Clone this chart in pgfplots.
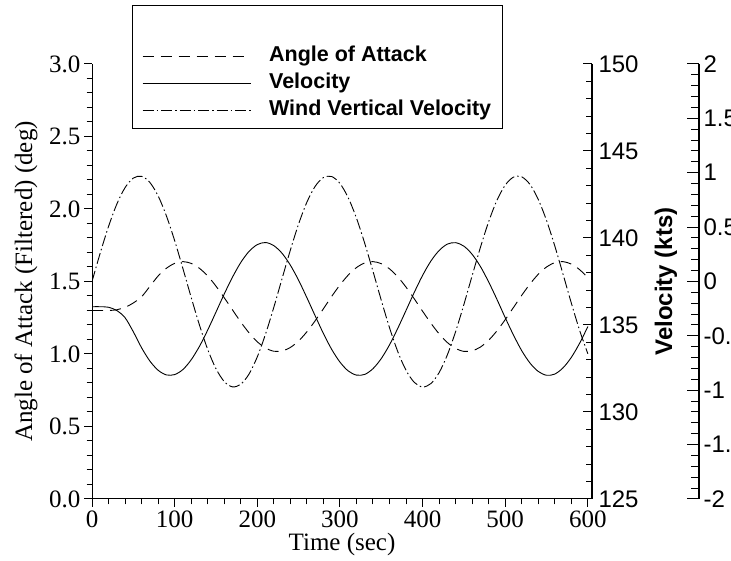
\documentclass[border=0pt]{standalone}
\usepackage{fontspec}
\setmainfont{Liberation Serif}
\newfontfamily\arial{Liberation Sans}
\usepackage{pgfplots}
\usepackage{pgfplotstable}
\pgfplotsset{compat=1.18}

\pgfplotstableread{
t a
0 1.300
10 1.300
20 1.300
30 1.305
40 1.322
50 1.352
60 1.395
70 1.466
80 1.538
90 1.591
100 1.625
110 1.637
120 1.625
130 1.591
140 1.538
150 1.468
160 1.388
170 1.304
180 1.221
190 1.146
200 1.084
210 1.041
220 1.019
230 1.021
240 1.045
250 1.090
260 1.153
270 1.229
280 1.312
290 1.397
300 1.476
310 1.544
320 1.596
330 1.628
340 1.637
350 1.623
360 1.587
370 1.532
380 1.461
390 1.380
400 1.295
410 1.213
420 1.139
430 1.079
440 1.038
450 1.018
460 1.022
470 1.048
480 1.095
490 1.160
500 1.237
510 1.321
520 1.405
530 1.483
540 1.550
550 1.600
560 1.630
570 1.637
580 1.620
590 1.582
600 1.525
}\aoatable

\pgfplotstableread{
t v
0 136.05
10 136.05
20 136.02
30 135.83
40 135.42
50 134.61
60 133.69
70 132.93
80 132.40
90 132.13
100 132.15
110 132.44
120 133.00
130 133.77
140 134.71
150 135.74
160 136.78
170 137.75
180 138.59
190 139.23
200 139.62
210 139.74
220 139.56
230 139.12
240 138.44
250 137.57
260 136.57
270 135.53
280 134.51
290 133.60
300 132.87
310 132.36
320 132.12
330 132.16
340 132.49
350 133.07
360 133.86
370 134.81
380 135.84
390 136.88
400 137.85
410 138.67
420 139.28
430 139.65
440 139.73
450 139.53
460 139.06
470 138.36
480 137.47
490 136.47
500 135.42
510 134.42
520 133.52
530 132.81
540 132.33
550 132.11
560 132.18
570 132.54
580 133.14
590 133.95
600 134.91
}\veltable

\pgfplotstableread{
t w
0 0.000
10 0.263
20 0.506
30 0.711
40 0.863
50 0.951
60 0.967
70 0.911
80 0.787
90 0.604
100 0.376
110 0.119
120 -0.146
130 -0.400
140 -0.625
150 -0.802
160 -0.920
170 -0.969
180 -0.945
190 -0.851
200 -0.693
210 -0.483
220 -0.237
230 0.027
240 0.288
250 0.529
260 0.729
270 0.875
280 0.956
290 0.965
300 0.902
310 0.771
320 0.583
330 0.351
340 0.093
350 -0.172
360 -0.425
370 -0.645
380 -0.817
390 -0.928
400 -0.970
410 -0.939
420 -0.838
430 -0.674
440 -0.460
450 -0.211
460 0.054
470 0.314
480 0.551
490 0.747
500 0.886
510 0.960
520 0.962
530 0.892
540 0.754
550 0.561
560 0.326
570 0.066
580 -0.199
590 -0.449
600 -0.665
}\windtable

\tikzset{
  aoastyle/.style={black, line width=0.9pt, dash pattern=on 11pt off 7pt},
  velstyle/.style={black, line width=0.9pt, solid},
  windstyle/.style={black, line width=0.9pt, dash pattern=on 11pt off 3pt on 1.5pt off 3pt},
}

\begin{document}
\begin{tikzpicture}
\useasboundingbox (0pt,0pt) rectangle (731pt,561pt);

% main axis: angle of attack
\begin{axis}[
  scale only axis, width=500pt, height=435pt,
  at={(92pt,62pt)}, anchor=south west,
  xmin=0, xmax=605, ymin=0, ymax=3,
  axis x line*=bottom, axis y line*=left,
  axis line style={line width=1pt, -},
  xtick={0,100,...,600}, minor x tick num=4,
  ytick={0,0.5,1,1.5,2,2.5,3},
  yticklabels={0.0,0.5,1.0,1.5,2.0,2.5,3.0},
  minor y tick num=4,
  tick align=outside, major tick length=8pt, minor tick length=5.5pt,
  tick style={line width=1pt, black},
  ticklabel style={font=\fontsize{25}{25}\selectfont},
  /pgf/number format/assume math mode=true,
  xlabel={Time (sec)},
  ylabel={Angle of Attack (Filtered) (deg)},
  xlabel style={font=\fontsize{25}{25}\selectfont, at={(axis description cs:0.5,-0.1195)}, anchor=base},
  ylabel style={font=\fontsize{25}{25}\selectfont, at={(axis description cs:-0.12,0.5)}, anchor=base},
  legend style={at={(axis description cs:0.1,1.041)}, anchor=north west,
    draw=none, fill=none, inner sep=0pt, row sep=6.8pt,
    font=\arial\bfseries\fontsize{21.5}{21.5}\selectfont,
    nodes={inner sep=0pt, text height=15.5pt, text depth=4.5pt},
    column sep=18pt},
  legend cell align=left,
  legend image code/.code={\draw[#1] (0pt,0pt) -- (108pt,0pt);},
]
\addplot[aoastyle, smooth] table[x=t, y=a] {\aoatable};
\addlegendentry{Angle of Attack}
\addlegendimage{velstyle}
\addlegendentry{Velocity}
\addlegendimage{windstyle}
\addlegendentry{Wind Vertical Velocity}
\end{axis}

% velocity axis (right)
\begin{axis}[
  scale only axis, width=500pt, height=435pt,
  at={(92pt,62pt)}, anchor=south west,
  xmin=0, xmax=605, ymin=125, ymax=150,
  axis x line=none, axis y line*=right,
  axis line style={line width=2pt, -},
  ytick={125,130,...,150}, minor y tick num=4,
  tick align=inside, major tick length=9pt, minor tick length=6pt,
  tick style={line width=1pt, black},
  yticklabel style={font=\arial\fontsize{24}{24}\selectfont, xshift=3pt},
  /pgf/number format/assume math mode=true,
  ylabel={Velocity (kts)},
  ylabel style={at={(axis description cs:1.16,0.5)}, anchor=base,
    font=\arial\bfseries\fontsize{24}{24}\selectfont},
]
\addplot[velstyle, smooth] table[x=t, y=v] {\veltable};
\end{axis}

% wind axis (hidden, same frame)
\begin{axis}[
  scale only axis, width=500pt, height=435pt,
  at={(92pt,62pt)}, anchor=south west,
  xmin=0, xmax=605, ymin=-2, ymax=2,
  hide axis,
]
\addplot[windstyle, smooth] table[x=t, y=w] {\windtable};
\end{axis}

% third y axis, offset to the right
\begin{axis}[
  scale only axis, width=500pt, height=435pt,
  at={(199pt,62pt)}, anchor=south west,
  xmin=0, xmax=1, ymin=-2, ymax=2,
  axis x line=none, axis y line*=right,
  axis line style={line width=2pt, -},
  ytick={-2,-1.5,-1,-0.5,0,0.5,1,1.5,2},
  yticklabels={-2,-1.5,-1,-0.5,0,0.5,1,1.5,2},
  minor y tick num=4,
  tick align=inside, major tick length=12pt, minor tick length=8pt,
  tick style={line width=1pt, black},
  yticklabel style={font=\arial\fontsize{24}{24}\selectfont, xshift=1pt},
]
\end{axis}

\draw[line width=1pt] (132pt,432pt) rectangle (502pt,555pt);
\end{tikzpicture}
\end{document}
